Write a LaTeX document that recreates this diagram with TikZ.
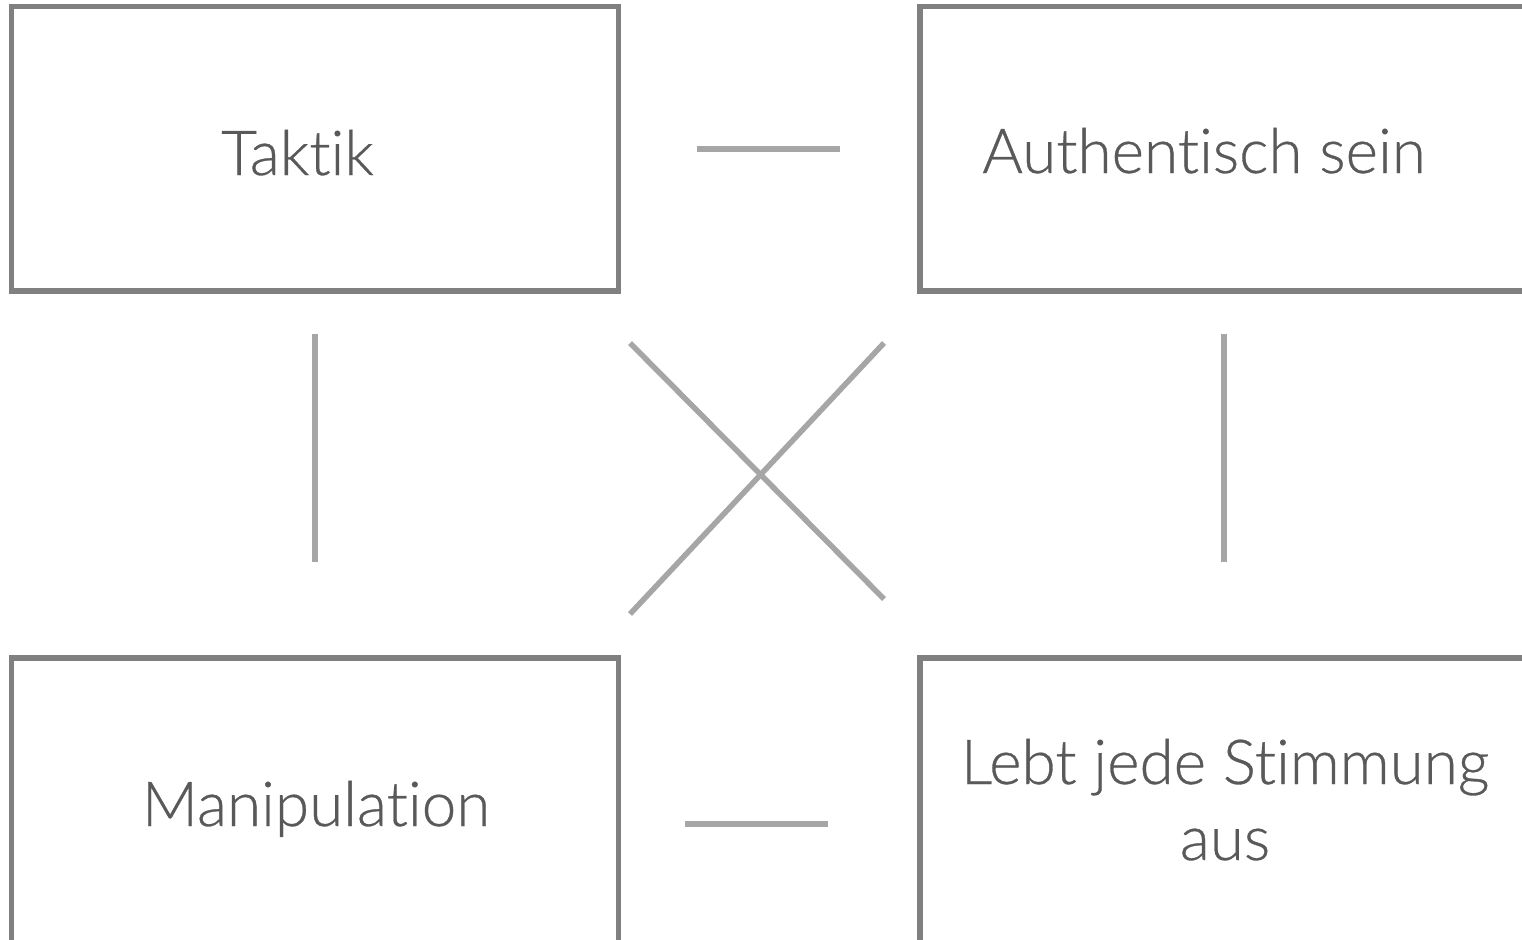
\documentclass[tikz,border=0pt]{standalone}
\usepackage{fontspec}
\setmainfont{Lato}[UprightFont={* Light}, Ligatures={NoCommon}, FakeBold=0.5]
\definecolor{boxgray}{HTML}{808080}
\definecolor{linegray}{HTML}{A6A6A6}
\definecolor{textgray}{HTML}{595959}
\begin{document}
\begin{tikzpicture}[x=1pt,y=-1pt,
  card/.style={draw=boxgray, line width=5.5pt, fill=none, inner sep=0pt, outer sep=0pt},
  conn/.style={draw=linegray, line width=5.5pt},
  lbl/.style={anchor=base, text=textgray, font=\fontsize{62}{76}\selectfont, inner sep=0pt, align=center}]
\useasboundingbox (0,0) rectangle (1522,939);
% boxes
\node[card, minimum width=607pt, minimum height=284.5pt] (tl) at (315,148.75) {};
\node[card, minimum width=607pt, minimum height=284.5pt] (tr) at (1223.5,148.75) {};
\node[card, minimum width=607pt, minimum height=284.5pt] (bl) at (315,800.25) {};
\node[card, minimum width=607pt, minimum height=284.5pt] (br) at (1223.5,800.25) {};
% texts
\node[lbl] (ttl) at (297.5,175) {Taktik};
\node[lbl] (ttr) at (1204,173) {Authentisch sein};
\node[lbl] (tbl) at (316,826) {Manipulation};
\node[lbl] (tbr) at (1225,860) {Lebt jede Stimmung\\aus};
% connector end points
\coordinate (h1a) at (697,149);
\coordinate (h1b) at (840,149);
\coordinate (h2a) at (685,824);
\coordinate (h2b) at (828,824);
\coordinate (v1a) at (315,334);
\coordinate (v1b) at (315,562);
\coordinate (v2a) at (1224,334);
\coordinate (v2b) at (1224,562);
\coordinate (x1a) at (630,343);
\coordinate (x1b) at (884,599);
\coordinate (x2a) at (884,343);
\coordinate (x2b) at (630,614);
\draw[conn] (h1a) -- (h1b);
\draw[conn] (h2a) -- (h2b);
\draw[conn] (v1a) -- (v1b);
\draw[conn] (v2a) -- (v2b);
\draw[conn] (x1a) -- (x1b);
\draw[conn] (x2a) -- (x2b);
\end{tikzpicture}
\end{document}
